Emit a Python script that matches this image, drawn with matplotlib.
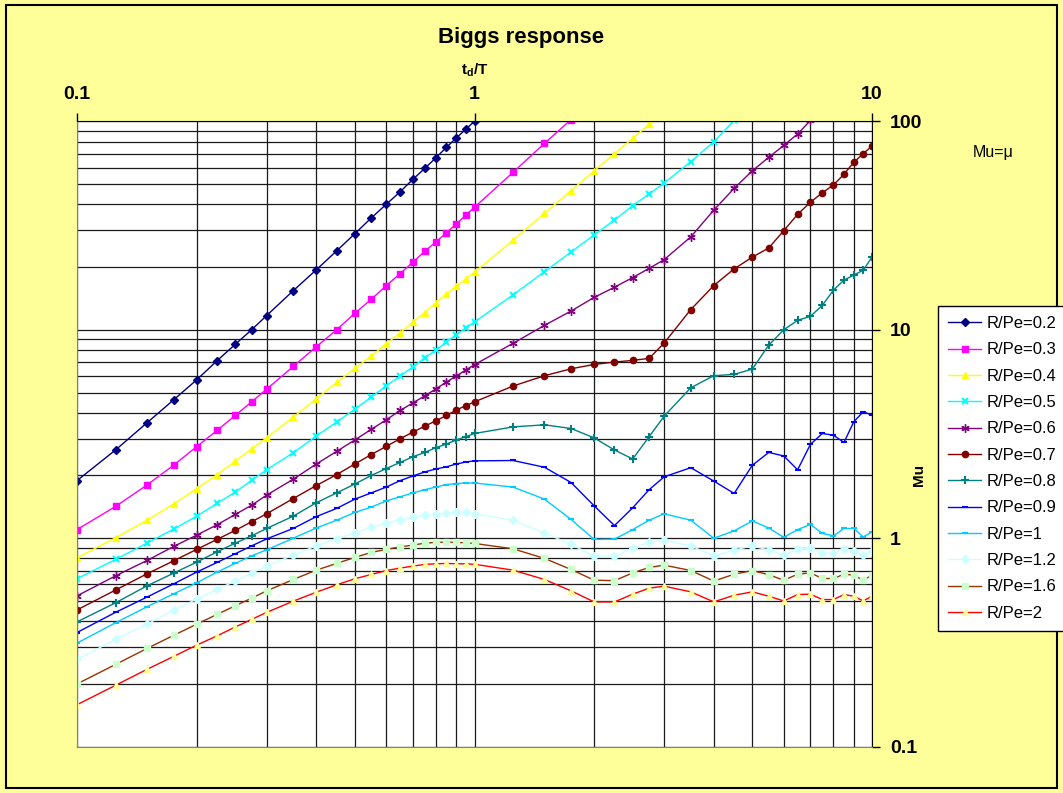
import matplotlib
matplotlib.use('Agg')
from matplotlib import pyplot as plt
from matplotlib import ticker
from matplotlib.patches import Rectangle

plt.rcParams['font.family'] = ['Liberation Sans', 'DejaVu Sans']
plt.rcParams['mathtext.fontset'] = 'custom'
plt.rcParams['mathtext.bf'] = 'Liberation Sans:bold'
plt.rcParams['mathtext.rm'] = 'Liberation Sans'

# td/T sample points
td_T = [0.1, 0.125, 0.15, 0.175, 0.2, 0.225, 0.25, 0.275, 0.3,
        0.35, 0.4, 0.45, 0.5, 0.55, 0.6, 0.65, 0.7, 0.75, 0.8, 0.85, 0.9, 0.95, 1.0,
        1.25, 1.5, 1.75, 2.0, 2.25, 2.5, 2.75, 3.0,
        3.5, 4.0, 4.5, 5.0, 5.5, 6.0, 6.5, 7.0, 7.5, 8.0, 8.5, 9.0, 9.5, 10.0]

# Mu, one list per R/Pe (curves above 100 stop early)
mu_02 = [1.89, 2.65, 3.58, 4.61, 5.75, 7.10, 8.51, 10.0, 11.7,
         15.4, 19.4, 23.9, 28.9, 34.4, 40.0, 45.9, 52.7, 59.5, 66.9, 75.0, 83.2, 91.5, 100]
mu_03 = [1.10, 1.42, 1.80, 2.24, 2.75, 3.29, 3.88, 4.51, 5.19,
         6.67, 8.29, 10.0, 12.0, 14.0, 16.3, 18.6, 21.1, 23.8, 26.4, 29.2, 32.2, 35.4, 38.7,
         56.9, 78.4, 102]
mu_04 = [0.805, 1.005, 1.22, 1.46, 1.73, 2.02, 2.34, 2.68, 3.03,
         3.81, 4.67, 5.59, 6.53, 7.48, 8.57, 9.67, 10.9, 12.1, 13.5, 14.8, 16.2, 17.5, 18.9,
         26.9, 36.2, 46.5, 57.9, 69.9, 82.9, 96.7, 110]
mu_05 = [0.639, 0.791, 0.947, 1.106, 1.276, 1.469, 1.664, 1.894, 2.13,
         2.57, 3.09, 3.61, 4.16, 4.75, 5.39, 6.00, 6.64, 7.34, 7.99, 8.73, 9.46, 10.2, 10.9,
         14.7, 19.0, 23.6, 28.5, 33.6, 39.4, 44.8, 50.6,
         64.0, 79.8, 101]
mu_06 = [0.529, 0.660, 0.782, 0.913, 1.035, 1.16, 1.30, 1.44, 1.61,
         1.92, 2.27, 2.61, 2.96, 3.33, 3.70, 4.10, 4.46, 4.82, 5.21, 5.61, 6.00, 6.41, 6.80,
         8.61, 10.5, 12.3, 14.3, 16.0, 17.8, 19.7, 21.7,
         27.9, 37.5, 47.7, 57.9, 67.2, 76.7, 86.9, 101]
mu_07 = [0.453, 0.564, 0.675, 0.779, 0.884, 0.987, 1.09, 1.20, 1.31,
         1.55, 1.79, 2.02, 2.27, 2.52, 2.76, 3.00, 3.23, 3.45, 3.66, 3.88, 4.12, 4.32, 4.51,
         5.37, 6.02, 6.50, 6.82, 7.00, 7.13, 7.29, 8.64,
         12.5, 16.3, 19.6, 22.3, 24.7, 29.9, 35.8, 40.9, 45.4, 49.5, 55.7, 63.6, 69.9, 76.1]
mu_08 = [0.397, 0.490, 0.591, 0.680, 0.768, 0.860, 0.947, 1.027, 1.114,
         1.276, 1.48, 1.65, 1.82, 2.00, 2.16, 2.31, 2.46, 2.58, 2.72, 2.83, 2.96, 3.07, 3.18,
         3.42, 3.50, 3.36, 3.03, 2.65, 2.40, 3.07, 3.85,
         5.27, 6.02, 6.11, 6.48, 8.45, 10.0, 11.1, 11.6, 13.1, 15.5, 17.3, 18.3, 19.3, 22.3]
mu_09 = [0.353, 0.441, 0.522, 0.604, 0.688, 0.765, 0.842, 0.919, 0.993,
         1.114, 1.27, 1.39, 1.54, 1.65, 1.76, 1.89, 1.99, 2.08, 2.15, 2.20, 2.27, 2.32, 2.35,
         2.36, 2.19, 1.85, 1.43, 1.15, 1.40, 1.71, 1.97,
         2.18, 1.88, 1.64, 2.24, 2.58, 2.48, 2.13, 2.82, 3.18, 3.12, 2.88, 3.62, 4.04, 3.90]
mu_10 = [0.314, 0.393, 0.469, 0.541, 0.611, 0.688, 0.757, 0.823, 0.880,
         1.00, 1.12, 1.22, 1.33, 1.41, 1.51, 1.58, 1.65, 1.71, 1.76, 1.81, 1.83, 1.84, 1.84,
         1.76, 1.54, 1.23, 0.987, 0.99, 1.10, 1.22, 1.31,
         1.22, 1.00, 1.085, 1.21, 1.12, 1.01, 1.10, 1.165, 1.055, 1.027, 1.114, 1.114, 1.015, 1.07]
mu_12 = [0.262, 0.327, 0.387, 0.452, 0.510, 0.568, 0.623, 0.680, 0.735,
         0.830, 0.919, 0.993, 1.06, 1.13, 1.18, 1.225, 1.26, 1.29, 1.30, 1.32, 1.33, 1.33, 1.31,
         1.22, 1.06, 0.934, 0.821, 0.823, 0.894, 0.958, 0.978,
         0.919, 0.823, 0.877, 0.919, 0.877, 0.830, 0.886, 0.90, 0.846, 0.846, 0.89, 0.866, 0.83, 0.866]
mu_16 = [0.200, 0.248, 0.296, 0.342, 0.387, 0.431, 0.474, 0.516, 0.559,
         0.634, 0.703, 0.757, 0.809, 0.855, 0.884, 0.909, 0.927, 0.947, 0.955, 0.958, 0.955, 0.951, 0.944,
         0.89, 0.80, 0.708, 0.629, 0.626, 0.682, 0.724, 0.743,
         0.70, 0.623, 0.672, 0.70, 0.668, 0.629, 0.672, 0.682, 0.641, 0.641, 0.672, 0.665, 0.629, 0.665]
mu_20 = [0.159, 0.197, 0.235, 0.271, 0.307, 0.340, 0.375, 0.408, 0.441,
         0.499, 0.551, 0.598, 0.639, 0.67, 0.70, 0.719, 0.735, 0.749, 0.754, 0.757, 0.754, 0.754, 0.75,
         0.703, 0.634, 0.559, 0.495, 0.495, 0.539, 0.576, 0.589,
         0.553, 0.495, 0.533, 0.553, 0.527, 0.50, 0.537, 0.539, 0.508, 0.508, 0.537, 0.527, 0.50, 0.527]

labels = ['R/Pe=0.2', 'R/Pe=0.3', 'R/Pe=0.4', 'R/Pe=0.5', 'R/Pe=0.6', 'R/Pe=0.7',
          'R/Pe=0.8', 'R/Pe=0.9', 'R/Pe=1', 'R/Pe=1.2', 'R/Pe=1.6', 'R/Pe=2']
curves = [mu_02, mu_03, mu_04, mu_05, mu_06, mu_07, mu_08, mu_09, mu_10, mu_12, mu_16, mu_20]

# line colour, marker, marker face, marker size
styles = [
    ('#000080', 'D', '#000080', 3.8),
    ('#FF00FF', 's', '#FF00FF', 4.5),
    ('#FFFF00', '^', '#FFFF00', 5),
    ('#00FFFF', 'x', '#00FFFF', 5),
    ('#800080', (6, 2, 0), '#800080', 6),
    ('#800000', 'o', '#800000', 4.5),
    ('#008080', '+', '#008080', 6),
    ('#0000FF', '_', '#0000FF', 4.5),
    ('#00CCFF', '_', '#00CCFF', 5),
    ('#CCFFFF', 'D', '#CCFFFF', 4),
    ('#993300', 's', '#CCFFCC', 4.5),
    ('#FF0000', '^', '#FFFF99', 5),
]

fig = plt.figure(figsize=(10.63, 7.93), dpi=100, facecolor='#FFFF99')
ax = fig.add_axes([77 / 1063, 1 - 746.7 / 793, (872 - 77) / 1063, (746.7 - 121.3) / 793])
ax.set_facecolor('white')

for lab, mu, (col, mk, face, ms) in zip(labels, curves, styles):
    ax.plot(td_T[:len(mu)], mu, color=col, lw=1, marker=mk, ms=ms,
            mfc=face, mec=face, mew=1.5 if mk in ('_', 'x', '+') else 1, label=lab)

ax.set_xscale('log')
ax.set_yscale('log')
ax.set_xlim(0.1, 10)
ax.set_ylim(0.1, 100)

fmt = ticker.FuncFormatter(lambda v, _: f'{v:g}')
ax.xaxis.set_major_formatter(fmt)
ax.yaxis.set_major_formatter(fmt)
ax.xaxis.set_minor_formatter(ticker.NullFormatter())
ax.yaxis.set_minor_formatter(ticker.NullFormatter())

ax.xaxis.tick_top()
ax.yaxis.tick_right()
ax.tick_params(which='major', length=6, width=1, direction='out', pad=7,
               labelsize=14)
ax.tick_params(which='minor', length=0)
for t in ax.get_xticklabels() + ax.get_yticklabels():
    t.set_fontweight('bold')

ax.grid(True, which='both', color='#1a1a1a', lw=0.9)
ax.set_axisbelow(True)
for side in ('left', 'bottom'):
    ax.spines[side].set_color('#808080')
for side in ('top', 'right'):
    ax.spines[side].set_color('black')

fig.text(521 / 1063, 1 - 37 / 793, 'Biggs response', ha='center', va='center',
         fontsize=16, fontweight='bold')
fig.text(475 / 1063, 1 - 70 / 793, r'$\mathbf{t_d/T}$', ha='center', va='center',
         fontsize=11)
fig.text(919 / 1063, 1 - 475 / 793, 'Mu', ha='center', va='center', rotation=90,
         fontsize=11, fontweight='bold')
fig.text(993 / 1063, 1 - 153 / 793, 'Mu=μ', ha='center', va='center', fontsize=11.5)

leg = fig.legend(loc='upper left', bbox_to_anchor=(938 / 1063, 1 - 306 / 793),
                 borderaxespad=0, fontsize=12, frameon=True, fancybox=False,
                 edgecolor='black', facecolor='white', framealpha=1,
                 handlelength=2.0, labelspacing=0.68, borderpad=0.6,
                 handletextpad=0.3)
leg.get_frame().set_linewidth(1)

fig.patches.append(Rectangle((6 / 1063, 5 / 793), (1057 - 6) / 1063, (788 - 5) / 793,
                             transform=fig.transFigure, fill=False,
                             edgecolor='black', lw=1.5))

fig.savefig('out.png', dpi=100, facecolor=fig.get_facecolor())
